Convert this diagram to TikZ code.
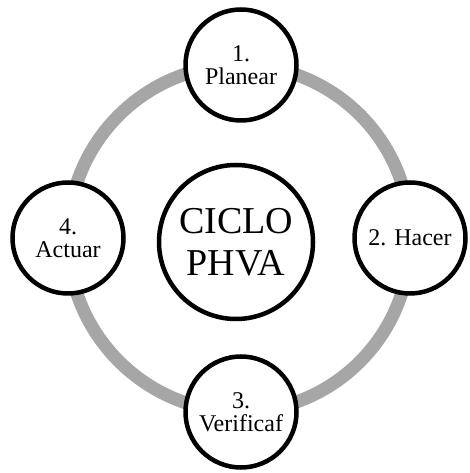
\documentclass[tikz,border=0pt]{standalone}
\usepackage{fontspec}
\setmainfont{Liberation Serif}
\usetikzlibrary{backgrounds}
\definecolor{ringgray}{RGB}{166,166,166}

\begin{document}
\begin{tikzpicture}
[x=1pt,y=1pt,
  stagedecorate/.style={shape=circle,draw,line width=4.5pt,fill=white,minimum size=111pt,inner sep=0pt,align=center,font=\fontsize{24}{23}\selectfont},%
  coredecorate/.style={shape=circle,draw,line width=4.5pt,fill=white,minimum size=154pt,inner sep=0pt,align=center,font=\fontsize{38}{42}\selectfont},%
  ringdecorate/.style={draw=ringgray,line width=13pt}]
\useasboundingbox (0,0) rectangle (469,473);
%% nodes or vertices
\node (core) at (236,231) [coredecorate] {CICLO\\PHVA};
\foreach \nodename/\x/\y/\stage in {plan/241/408/{1.\\Planear},
  do/410/235/{2. Hacer}, check/241/61/{3.\\Verificaf}, act/68/235/{4.\\Actuar}}
{
  \node (\nodename) at (\x,\y) [stagedecorate] {\stage};
}
%% ring behind the nodes
\begin{scope}[on background layer]
\path
\foreach \startnode/\endnode in {plan/do, do/check, check/act, act/plan}
{
  (\startnode.center) edge[ringdecorate,bend left=45] (\endnode.center)
};
\end{scope}
\end{tikzpicture}
\end{document}
